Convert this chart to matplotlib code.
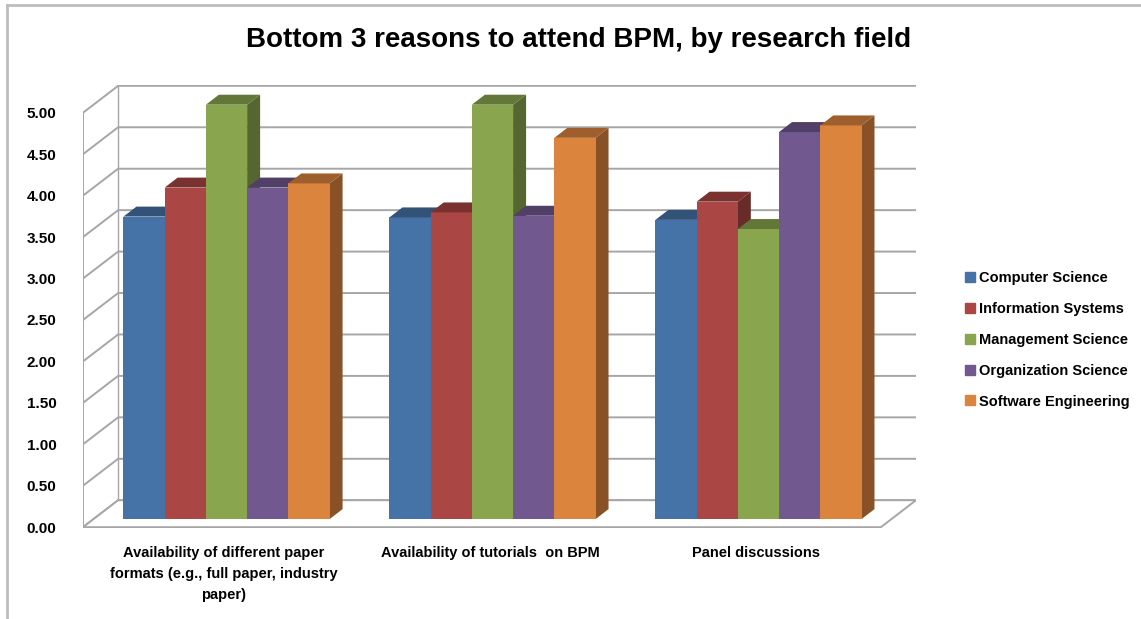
import matplotlib
matplotlib.use("Agg")
import matplotlib.pyplot as plt
import numpy as np
from matplotlib.patches import Polygon
from matplotlib.lines import Line2D
from matplotlib import colors as mcolors

# data
categories = ["Availability of different paper\nformats (e.g., full paper, industry\npaper)",
              "Availability of tutorials  on BPM",
              "Panel discussions"]
fields = ["Computer Science", "Information Systems", "Management Science",
          "Organization Science", "Software Engineering"]
computer_science = [3.65, 3.64, 3.61]
information_systems = [4.00, 3.70, 3.83]
management_science = [5.00, 5.00, 3.50]
organization_science = [4.00, 3.66, 4.67]
software_engineering = [4.05, 4.60, 4.75]
series = [computer_science, information_systems, management_science,
          organization_science, software_engineering]
bar_colors = ["#4572a7", "#aa4643", "#89a54e", "#71588f", "#db843d"]
yticks = np.arange(0, 5.01, 0.5)

plt.rcParams['font.family'] = ['Liberation Sans', 'DejaVu Sans']
plt.rcParams['font.weight'] = 'bold'

fig = plt.figure(figsize=(11.41, 6.19), dpi=100)
ax = fig.add_axes([83 / 1141, 91 / 619, 833 / 1141, 443 / 619])

# depth of the pseudo 3d box, in data units
dx, dy = 0.132, 0.325
f0, f1 = 0.30, 0.67      # bar front / back depth fraction
grid_c = "#a6a6a6"

ax.set_xlim(0, 3 + dx)
ax.set_ylim(-0.01, 5 + dy + 0.01)

# walls and floor
for v in yticks:
    ax.plot([0, dx, 3 + dx], [v, v + dy, v + dy], color=grid_c, lw=1.4, zorder=1)
ax.plot([0, 0], [0, 5], color=grid_c, lw=1.4, zorder=1)
ax.plot([dx, dx], [dy, 5 + dy], color=grid_c, lw=1.0, zorder=1)
ax.add_patch(Polygon([(0, 0), (3, 0), (3 + dx, dy), (dx, dy)], closed=True,
                     facecolor="white", edgecolor=grid_c, lw=1.4, zorder=1))

# bars
n = len(series)
bw = 0.155
x0 = np.arange(3) + 0.5 - n * bw / 2 + f0 * dx
for k in range(n - 1, -1, -1):
    base = mcolors.to_rgb(bar_colors[k])
    top_c = tuple(c * 0.72 for c in base)
    side_c = tuple(c * 0.62 for c in base)
    xs = x0 + k * bw
    vals = np.array(series[k])
    ax.bar(xs, vals, width=bw, bottom=f0 * dy, align="edge",
           color=bar_colors[k], edgecolor="none", zorder=3 + k)
    ddx, ddy = (f1 - f0) * dx, (f1 - f0) * dy
    for xi, v in zip(xs, vals):
        yt = v + f0 * dy
        ax.add_patch(Polygon([(xi, yt), (xi + bw, yt), (xi + bw + ddx, yt + ddy),
                              (xi + ddx, yt + ddy)], closed=True,
                             facecolor=top_c, edgecolor="none", zorder=3 + k))
        ax.add_patch(Polygon([(xi + bw, f0 * dy), (xi + bw, yt), (xi + bw + ddx, yt + ddy),
                              (xi + bw + ddx, f0 * dy + ddy)], closed=True,
                             facecolor=side_c, edgecolor="none", zorder=2 + k))

ax.set_yticks(yticks)
ax.set_yticklabels([f"{v:.2f}" for v in yticks], fontsize=11, fontweight="bold")
ax.tick_params(axis="y", length=0, pad=19)
ax.set_xticks([])
for s in ax.spines.values():
    s.set_visible(False)

for i, c in enumerate(categories):
    ax.text(i + 0.53, -0.23, c, ha="center", va="top", fontsize=10.5,
            fontweight="bold", linespacing=1.62)

fig.text(579 / 1141, 1 - 40 / 619, "Bottom 3 reasons to attend BPM, by research field",
         ha="center", va="center", fontsize=20, fontweight="bold")

handles = [Line2D([], [], marker="s", ls="none", markersize=7.5, color=c) for c in bar_colors]
fig.legend(handles, fields, loc="center left", bbox_to_anchor=(950 / 1141, 1 - 340 / 619),
           frameon=False, handletextpad=0.1, labelspacing=1.15,
           handlelength=1.0, prop={"weight": "bold", "size": 10.5})

# chart border
fig.add_artist(Line2D([7 / 1141, 7 / 1141], [0, 1 - 5 / 619], color="#bdbdbd", lw=2,
                      transform=fig.transFigure))
fig.add_artist(Line2D([7 / 1141, 1], [1 - 5 / 619, 1 - 5 / 619], color="#bdbdbd", lw=2,
                      transform=fig.transFigure))

fig.savefig("out.png", dpi=100)
